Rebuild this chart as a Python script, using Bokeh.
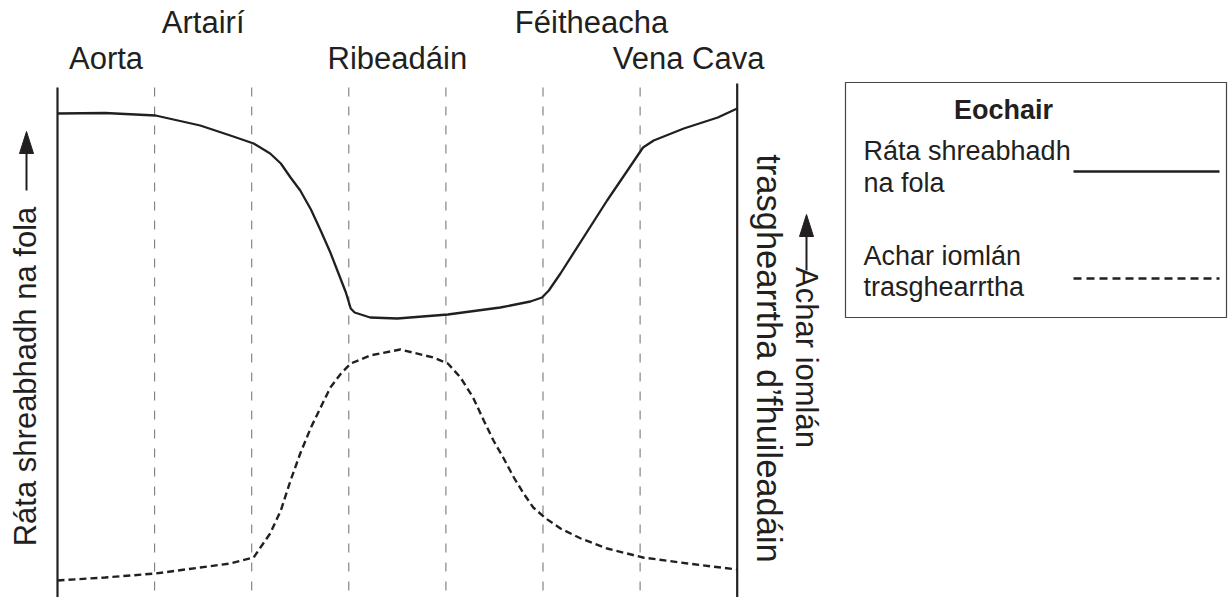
import math
from bokeh.plotting import figure
from bokeh.models import Range1d
from bokeh.core.properties import value
from bokeh.embed import file_html
from bokeh.resources import INLINE

# ---------------- data ----------------
# vessel segment boundaries (stage units along the circulation)
boundaries = [1, 2, 3, 4, 5, 6]
axis_edges = [0, 7]

top_row_labels = ["Artairí", "Féitheacha"]
top_row_pos = [1.5, 5.5]
second_row_labels = ["Aorta", "Ribeadáin", "Vena Cava"]
second_row_pos = [0.5, 3.5, 6.5]

# Ráta shreabhadh na fola (blood flow rate), arbitrary units
flow_x = [0, 0.49, 1.01, 1.47, 1.78, 2.02, 2.19, 2.30, 2.40, 2.50, 2.61, 2.71,
          2.81, 2.89, 2.97, 3.02, 3.06, 3.22, 3.50, 4.02, 4.56, 4.87, 4.99,
          5.06, 5.18, 5.66, 5.87, 6.03, 6.14, 6.45, 6.80, 7.0]
flow_y = [95.4, 95.5, 95.0, 93.0, 91.0, 89.4, 87.4, 85.4, 82.6, 80.0, 76.2, 72.0,
          67.6, 63.6, 59.6, 56.4, 55.6, 54.6, 54.4, 55.2, 56.6, 57.8, 58.6,
          60.0, 63.4, 78.0, 84.0, 88.6, 90.0, 92.4, 94.6, 96.4]

# Achar iomlán trasghearrtha (total cross-sectional area), arbitrary units
area_x = [0, 0.49, 1.01, 1.47, 1.78, 2.02, 2.09, 2.19, 2.30, 2.40, 2.50, 2.61,
          2.71, 2.81, 2.92, 3.02, 3.22, 3.53, 3.87, 4.02, 4.15, 4.28, 4.39,
          4.49, 4.59, 4.70, 4.80, 4.90, 5.03, 5.18, 5.39, 5.66, 6.03, 6.49, 7.0]
area_y = [2.0, 2.6, 3.4, 4.6, 5.4, 6.6, 8.6, 11.4, 16.0, 22.0, 27.4, 32.6,
          36.6, 40.6, 43.4, 45.4, 47.0, 48.2, 46.6, 45.4, 42.6, 38.6, 34.0,
          30.0, 26.6, 22.6, 19.4, 16.6, 14.4, 12.4, 10.4, 8.4, 6.6, 5.4, 4.2]

left_axis_label = "Ráta shreabhadh na fola"
right_axis_label = ["Achar iomlán", "trasghearrtha d’fhuileadáin"]
legend_title = "Eochair"
legend_lines = [["Ráta shreabhadh", "na fola"], ["Achar iomlán", "trasghearrtha"]]

# ---------------- layout helpers (picture pixel -> data) ----------------
W, H = 1228, 597
X0, XS = 57.0, 97.1   # picture x of stage 0, pixels per stage
Y0, YS = 590.0, 5.0   # picture y of value 0, pixels per value unit
TB = 10.5             # text baseline correction (px)


def dx(px):
    return (px - X0) / XS


def dy(py):
    return (Y0 - py) / YS


INK = "#231f20"
FONT = value("Liberation Sans")

p = figure(width=W, height=H, output_backend="svg", toolbar_location=None,
           x_range=Range1d(dx(0), dx(W)), y_range=Range1d(dy(H), dy(0)),
           x_axis_location=None, y_axis_location=None,
           min_border=0, min_border_left=0, min_border_right=0,
           min_border_top=0, min_border_bottom=0)
p.grid.visible = False
p.outline_line_color = None
p.background_fill_color = "white"
p.border_fill_color = "white"

# dashed boundaries
p.segment(x0=boundaries, y0=[dy(87)] * len(boundaries),
          x1=boundaries, y1=[dy(600)] * len(boundaries),
          line_color="#7a7a7a", line_width=1.1, line_dash="9 10")

# axis lines
p.segment(x0=axis_edges, y0=[dy(87), dy(83)], x1=axis_edges, y1=[dy(600), dy(600)],
          line_color=INK, line_width=2.2)

# curves
p.line(flow_x, flow_y, line_color=INK, line_width=2.3, line_join="round")
p.line(area_x, area_y, line_color=INK, line_width=2.4, line_dash="7 4")

# category labels
p.text(x=top_row_pos, y=[dy(32 - TB)] * 2, text=top_row_labels, text_font=FONT,
       text_font_size="31px", text_align="center", text_baseline="alphabetic",
       text_color=INK)
p.text(x=second_row_pos, y=[dy(68 - TB)] * 3, text=second_row_labels, text_font=FONT,
       text_font_size="31px", text_align="center", text_baseline="alphabetic",
       text_color=INK)

# left axis label + arrow
p.text(x=[dx(35 - TB)], y=[dy(376)], text=[left_axis_label], angle=math.pi / 2,
       text_font=FONT, text_font_size="31px", text_align="center",
       text_baseline="alphabetic", text_color=INK)
ax = 26
p.segment(x0=[dx(ax)], y0=[dy(190)], x1=[dx(ax)], y1=[dy(150)], line_color=INK, line_width=2)
p.patch(x=[dx(ax), dx(ax - 7), dx(ax + 7)], y=[dy(131), dy(153), dy(153)],
        fill_color=INK, line_color=INK)

# right axis label + arrow
p.text(x=[dx(795 + TB)], y=[dy(357)], text=[right_axis_label[0]],
       angle=-math.pi / 2, text_font=FONT, text_font_size="31px",
       text_align="center", text_baseline="alphabetic", text_color=INK)
p.text(x=[dx(757 + 11.5)], y=[dy(358)], text=[right_axis_label[1]],
       angle=-math.pi / 2, text_font=FONT, text_font_size="34.5px",
       text_align="center", text_baseline="alphabetic", text_color=INK)
rx = 806
p.segment(x0=[dx(rx)], y0=[dy(270)], x1=[dx(rx)], y1=[dy(232)], line_color=INK, line_width=2)
p.patch(x=[dx(rx), dx(rx - 7), dx(rx + 7)], y=[dy(214), dy(236), dy(236)],
        fill_color=INK, line_color=INK)

# legend box
p.quad(left=[dx(845)], right=[dx(1226)], top=[dy(82)], bottom=[dy(317)],
       fill_color=None, line_color="#444444", line_width=1.2)
p.text(x=[dx(1003)], y=[dy(120 - TB)], text=[legend_title], text_font=FONT,
       text_font_size="27px", text_font_style="bold", text_align="center",
       text_baseline="alphabetic", text_color=INK)
p.text(x=[dx(863)] * 4, y=[dy(v - TB) for v in (161, 193, 266, 297)],
       text=legend_lines[0] + legend_lines[1], text_font=FONT,
       text_font_size="27px", text_align="left", text_baseline="alphabetic",
       text_color=INK)
p.segment(x0=[dx(1073)], y0=[dy(171)], x1=[dx(1219)], y1=[dy(171)],
          line_color=INK, line_width=2.3)
p.segment(x0=[dx(1073)], y0=[dy(278)], x1=[dx(1219)], y1=[dy(278)],
          line_color=INK, line_width=2.3, line_dash="8 5")

open("out.html", "w").write(file_html(p, INLINE))
